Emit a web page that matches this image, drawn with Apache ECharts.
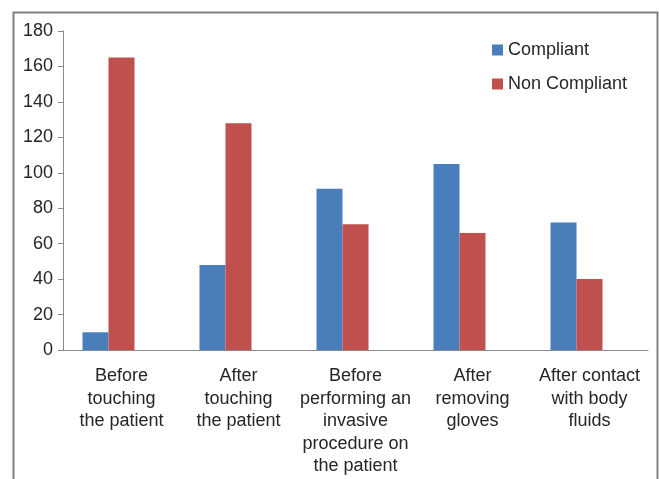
<!DOCTYPE html>
<html><head><meta charset="utf-8">
<script src="https://cdn.jsdelivr.net/npm/echarts@6/dist/echarts.min.js"></script>
<style>html,body{margin:0;padding:0;background:#fff}#c{width:659px;height:479px}</style>
</head><body><div id="c"></div>
<script>
var categories = ['Before\ntouching\nthe patient','After\ntouching\nthe patient','Before\nperforming an\ninvasive\nprocedure on\nthe patient','After\nremoving\ngloves','After contact\nwith body\nfluids'];
var compliant = [10, 48, 91, 105, 72];
var nonCompliant = [165, 128, 71, 66, 40];
var yTicks = {min: 0, max: 180, interval: 20};
var chart = echarts.init(document.getElementById('c'));
var axisCol = '#8a8a8a';
chart.setOption({
  animation: false,
  graphic: [{type:'rect', shape:{x:13.5,y:12.5,width:644,height:480}, style:{fill:'none', stroke:'#808080', lineWidth:2}, z:-1}],
  legend: {
    orient: 'vertical', left: 492, top: 41, padding: 0, itemWidth: 11, itemHeight: 11, itemGap: 16,
    icon: 'rect', data: ['Compliant','Non Compliant'],
    textStyle: {fontFamily: 'Liberation Sans', fontSize: 18, color: '#262626'}
  },
  grid: {left: 63, top: 31, right: 11, bottom: 129},
  xAxis: {
    type: 'category', data: categories,
    axisLine: {lineStyle: {color: axisCol}},
    axisTick: {length: 5, lineStyle: {color: axisCol}},
    axisLabel: {fontFamily: 'Liberation Sans', fontSize: 18, color: '#262626', lineHeight: 22.5, margin: 15, interval: 0}
  },
  yAxis: {
    type: 'value', min: yTicks.min, max: yTicks.max, interval: yTicks.interval,
    axisLine: {show: true, lineStyle: {color: axisCol}},
    axisTick: {show: true, length: 5, lineStyle: {color: axisCol}},
    splitLine: {show: false},
    axisLabel: {fontFamily: 'Liberation Sans', fontSize: 18, color: '#262626', margin: 10}
  },
  series: [
    {name: 'Compliant', type: 'bar', data: compliant, barWidth: 26, barGap: '0%', itemStyle: {color: '#4a7ebb'}},
    {name: 'Non Compliant', type: 'bar', data: nonCompliant, barWidth: 26, barGap: '0%', itemStyle: {color: '#c0504d'}},
    {name: 'blank', type: 'bar', data: [null,null,null,null,null], barWidth: 26, barGap: '0%'}
  ]
});
</script></body></html>
